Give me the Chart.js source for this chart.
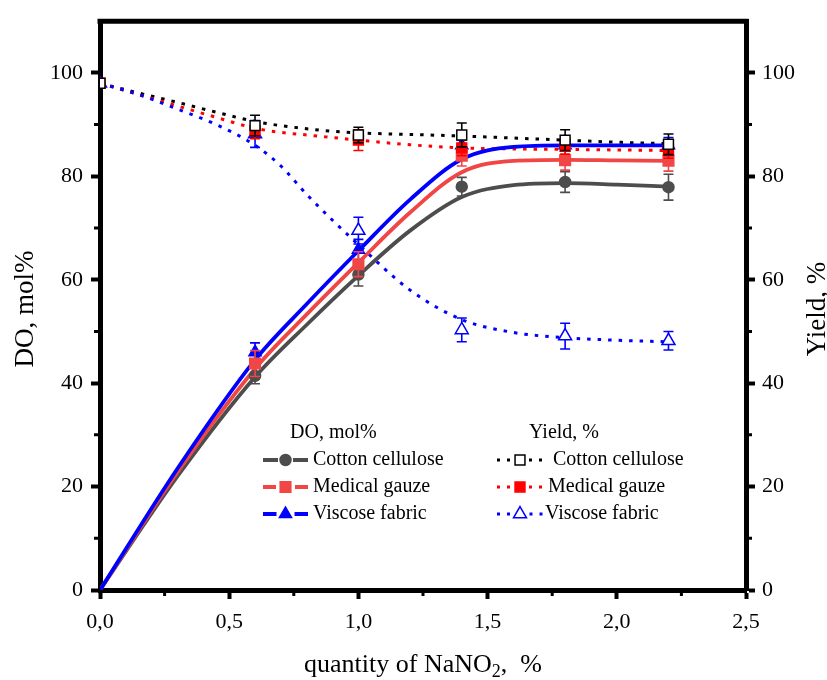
<!DOCTYPE html>
<html lang="en">
<head>
<meta charset="UTF-8">
<title>DO and Yield vs NaNO2</title>
<script src="https://cdn.jsdelivr.net/npm/chart.js"></script>
<style>
  html, body { margin: 0; padding: 0; background: #fff; }
  #wrap { width: 827px; height: 680px; }
</style>
</head>
<body>
<div id="wrap"><canvas id="chart" width="827" height="680"></canvas></div>
<script>
// fitted curves
const doFitX = [0, 0.3, 0.6, 0.8, 1.0, 1.2, 1.4, 1.6, 1.8, 2.0, 2.2];
const doFitCotton  = [0, 22.0, 41.2, 51.3, 60.8, 69.5, 76.0, 78.3, 78.7, 78.4, 78.0];
const doFitGauze   = [0, 22.8, 42.8, 53.3, 63.3, 73.0, 80.8, 83.0, 83.2, 83.1, 83.0];
const doFitViscose = [0, 23.5, 44.5, 55.3, 65.6, 75.5, 83.3, 85.7, 86.0, 86.0, 86.0];

const yieldFitX = [0, 0.15, 0.3, 0.45, 0.6, 0.7, 0.8, 0.9, 1.0, 1.2, 1.4, 1.6, 1.8, 2.0, 2.2];
const yieldFitCotton  = [98, 96.1, 94.3, 92.4, 90.6, 89.8, 89.2, 88.7, 88.4, 88.1, 87.8, 87.4, 87.0, 86.6, 86.3];
const yieldFitGauze   = [98, 95.8, 93.6, 91.4, 89.3, 88.5, 88.0, 87.5, 87.0, 86.1, 85.5, 85.3, 85.2, 85.1, 85.0];
const yieldFitViscose = [98, 95.8, 93.0, 90.0, 86.0, 82.0, 76.5, 71.5, 66.8, 58.0, 52.3, 49.8, 48.8, 48.3, 48.0];

// measured points with error bars
const doX = [0.6, 1.0, 1.4, 1.8, 2.2];
const doCotton     = [41.4, 61.0, 78.0, 78.9, 77.9];
const doCottonErr  = [1.5, 2.2, 1.8, 2.0, 2.5];
const doGauze      = [43.8, 63.0, 84.0, 83.1, 83.0];
const doGauzeErr   = [2.5, 2.4, 2.0, 1.9, 2.0];
const doViscose    = [46.0, 65.8, 86.0, 86.0, 86.0];
const doViscoseErr = [1.8, 2.0, 1.5, 1.0, 1.5];

const yieldX = [0, 0.6, 1.0, 1.4, 1.8, 2.2];
const yieldCotton     = [98, 89.8, 88.0, 88.0, 87.0, 86.2];
const yieldCottonErr  = [0, 2.0, 1.5, 2.3, 2.0, 2.0];
const yieldGauze      = [98, 88.8, 87.0, 85.5, 85.8, 85.0];
const yieldGauzeErr   = [0, 1.5, 2.0, 1.5, 1.5, 1.5];
const yieldViscose    = [98, 88.2, 69.5, 50.3, 49.1, 48.2];
const yieldViscoseErr = [0, 2.6, 2.6, 2.3, 2.5, 1.8];

const xMinorTicks = [0.25, 0.75, 1.25, 1.75, 2.25];
const yMinorTicks = [10, 30, 50, 70, 90];

const FONT = "'Liberation Serif', 'Times New Roman', serif";
const GRAY = '#4d4d4d', LRED = '#f04646', RED = '#ff0000', BLUE = '#0000ff';

const pts = (xs, ys) => xs.map((x, i) => ({ x: x, y: ys[i] }));

function fitSet(label, xs, ys, color, dotted, order) {
  return {
    label: label, data: pts(xs, ys), showLine: true, pointRadius: 0,
    borderColor: color, borderWidth: dotted ? 3 : 3.8,
    borderDash: dotted ? [3.5, 7] : [], cubicInterpolationMode: 'monotone',
    order: order
  };
}
function markSet(label, xs, ys, errs, style, fill, color, radius, order) {
  return {
    label: label, data: pts(xs, ys), errors: errs, showLine: false, clip: 0,
    pointStyle: style, pointRadius: radius, pointBackgroundColor: fill,
    pointBorderColor: color, pointBorderWidth: 1.5, errColor: color, order: order
  };
}

const datasets = [
  fitSet('Yield cotton fit', yieldFitX, yieldFitCotton, '#000', true, 12),
  fitSet('Yield gauze fit', yieldFitX, yieldFitGauze, RED, true, 11),
  fitSet('Yield viscose fit', yieldFitX, yieldFitViscose, BLUE, true, 10),
  fitSet('DO cotton fit', doFitX, doFitCotton, GRAY, false, 9),
  fitSet('DO gauze fit', doFitX, doFitGauze, LRED, false, 8),
  fitSet('DO viscose fit', doFitX, doFitViscose, BLUE, false, 7),
  markSet('DO cotton', doX, doCotton, doCottonErr, 'circle', GRAY, GRAY, 5.5, 6),
  markSet('DO viscose', doX, doViscose, doViscoseErr, 'triangle', BLUE, BLUE, 7, 5),
  markSet('DO gauze', doX, doGauze, doGauzeErr, 'rect', LRED, LRED, 7.5, 4),
  markSet('Yield viscose', yieldX, yieldViscose, yieldViscoseErr, 'triangle', '#fff', BLUE, 7.5, 3),
  markSet('Yield gauze', yieldX, yieldGauze, yieldGauzeErr, 'rect', RED, RED, 7, 2),
  markSet('Yield cotton', yieldX, yieldCotton, yieldCottonErr, 'rect', '#fff', '#000', 7, 1)
];

// error bars drawn under each marker set
const errorBars = {
  id: 'errorBars',
  beforeDatasetDraw(chart, args) {
    const ds = chart.data.datasets[args.index];
    if (!ds.errors) return;
    const ctx = chart.ctx, ys = chart.scales.y;
    ctx.save();
    ctx.strokeStyle = ds.errColor;
    ctx.lineWidth = 1.6;
    args.meta.data.forEach((pt, i) => {
      const e = ds.errors[i];
      if (!e) return;
      const top = ys.getPixelForValue(ds.data[i].y + e);
      const bot = ys.getPixelForValue(ds.data[i].y - e);
      ctx.beginPath();
      ctx.moveTo(pt.x, top); ctx.lineTo(pt.x, bot);
      ctx.moveTo(pt.x - 5, top); ctx.lineTo(pt.x + 5, top);
      ctx.moveTo(pt.x - 5, bot); ctx.lineTo(pt.x + 5, bot);
      ctx.stroke();
    });
    ctx.restore();
  }
};

function drawSample(ctx, x0, x1, y, lineColor, lineWidth, dash, ds) {
  const xm = (x0 + x1) / 2, gap = ds.pointRadius + 2;
  ctx.save();
  ctx.strokeStyle = lineColor;
  ctx.lineWidth = lineWidth;
  ctx.setLineDash(dash);
  ctx.beginPath();
  ctx.moveTo(x0, y); ctx.lineTo(xm - gap, y);
  ctx.moveTo(xm + gap, y); ctx.lineTo(x1, y);
  ctx.stroke();
  ctx.setLineDash([]);
  ctx.fillStyle = ds.pointBackgroundColor;
  ctx.strokeStyle = ds.pointBorderColor;
  ctx.lineWidth = 1.5;
  Chart.helpers.drawPoint(ctx, { pointStyle: ds.pointStyle, radius: ds.pointRadius, rotation: 0, borderWidth: 1.5 }, xm, y);
  ctx.restore();
}

const decorations = {
  id: 'decorations',
  afterDraw(chart) {
    const ctx = chart.ctx, a = chart.chartArea;
    const xs = chart.scales.x, ys = chart.scales.y;
    ctx.save();
    // top frame line
    ctx.strokeStyle = '#000';
    ctx.lineWidth = 5;
    ctx.beginPath();
    ctx.moveTo(a.left - 2.5, a.top); ctx.lineTo(a.right + 2.5, a.top);
    ctx.stroke();
    // minor ticks
    ctx.lineWidth = 3;
    ctx.beginPath();
    xMinorTicks.forEach(v => {
      const px = xs.getPixelForValue(v);
      ctx.moveTo(px, a.bottom); ctx.lineTo(px, a.bottom + 6);
    });
    yMinorTicks.forEach(v => {
      const py = ys.getPixelForValue(v);
      ctx.moveTo(a.left, py); ctx.lineTo(a.left - 6, py);
      ctx.moveTo(a.right, py); ctx.lineTo(a.right + 6, py);
    });
    ctx.stroke();

    // axis titles
    ctx.fillStyle = '#000';
    ctx.font = '27px ' + FONT;
    ctx.textAlign = 'center';
    ctx.textBaseline = 'alphabetic';
    ctx.save();
    ctx.translate(33, 309); ctx.rotate(-Math.PI / 2);
    ctx.fillText('DO, mol%', 0, 0);
    ctx.restore();
    ctx.save();
    ctx.translate(825, 309); ctx.rotate(-Math.PI / 2);
    ctx.fillText('Yield, %', 0, 0);
    ctx.restore();

    // x title with subscript
    const big = '26px ' + FONT, small = '18px ' + FONT;
    const p1 = 'quantity of NaNO', p2 = '2', p3 = ',  %';
    ctx.font = big; const w1 = ctx.measureText(p1).width, w3 = ctx.measureText(p3).width;
    ctx.font = small; const w2 = ctx.measureText(p2).width;
    let tx = (a.left + a.right) / 2 - (w1 + w2 + w3) / 2;
    const ty = 672;
    ctx.textAlign = 'left';
    ctx.font = big; ctx.fillText(p1, tx, ty); tx += w1;
    ctx.font = small; ctx.fillText(p2, tx, ty + 5); tx += w2;
    ctx.font = big; ctx.fillText(p3, tx, ty);

    // legend
    const d = chart.data.datasets;
    ctx.font = '20px ' + FONT;
    ctx.textBaseline = 'middle';
    ctx.fillText('DO, mol%', 290, 433);
    ctx.fillText('Yield, %', 529, 433);
    const rows = [
      ['Cotton cellulose', 460, 3, 6, 0, 11, 553],
      ['Medical gauze', 487, 4, 8, 1, 10, 548],
      ['Viscose fabric', 514, 5, 7, 2, 9, 545]
    ];
    rows.forEach(r => {
      drawSample(ctx, 263, 308, r[1], d[r[2]].borderColor, 4, [], d[r[3]]);
      ctx.fillStyle = '#000';
      ctx.fillText(r[0], 313, r[1]);
      drawSample(ctx, 497, 543, r[1], d[r[4]].borderColor, 3, [3, 7], d[r[5]]);
      ctx.fillStyle = '#000';
      ctx.fillText(r[0], r[6], r[1]);
    });
    ctx.restore();
  }
};

const tickFont = { family: FONT, size: 22 };
const axisGrid = { display: true, drawOnChartArea: false, drawTicks: true, tickLength: 9, tickWidth: 4, tickColor: '#000' };
const axisBorder = { display: true, width: 5, color: '#000' };

new Chart(document.getElementById('chart').getContext('2d'), {
  type: 'scatter',
  data: { datasets: datasets },
  options: {
    responsive: false,
    animation: false,
    layout: { padding: { top: 17, left: 0, right: 0, bottom: 0 } },
    plugins: { legend: { display: false }, tooltip: { enabled: false } },
    scales: {
      x: {
        type: 'linear', min: 0, max: 2.5,
        ticks: { stepSize: 0.5, font: tickFont, color: '#000', padding: 10, maxRotation: 0,
                 callback: v => v.toFixed(1).replace('.', ',') },
        grid: axisGrid, border: axisBorder,
        afterFit: s => { s.height = 90; }
      },
      y: {
        type: 'linear', position: 'left', min: 0, max: 110,
        ticks: { stepSize: 20, includeBounds: false, font: tickFont, color: '#000', padding: 8 },
        grid: axisGrid, border: axisBorder,
        afterFit: s => { s.width = 100; }
      },
      y2: {
        type: 'linear', position: 'right', min: 0, max: 110,
        ticks: { stepSize: 20, includeBounds: false, font: tickFont, color: '#000', padding: 7 },
        grid: axisGrid, border: axisBorder,
        afterFit: s => { s.width = 81; }
      }
    }
  },
  plugins: [errorBars, decorations]
});
</script>
</body>
</html>
